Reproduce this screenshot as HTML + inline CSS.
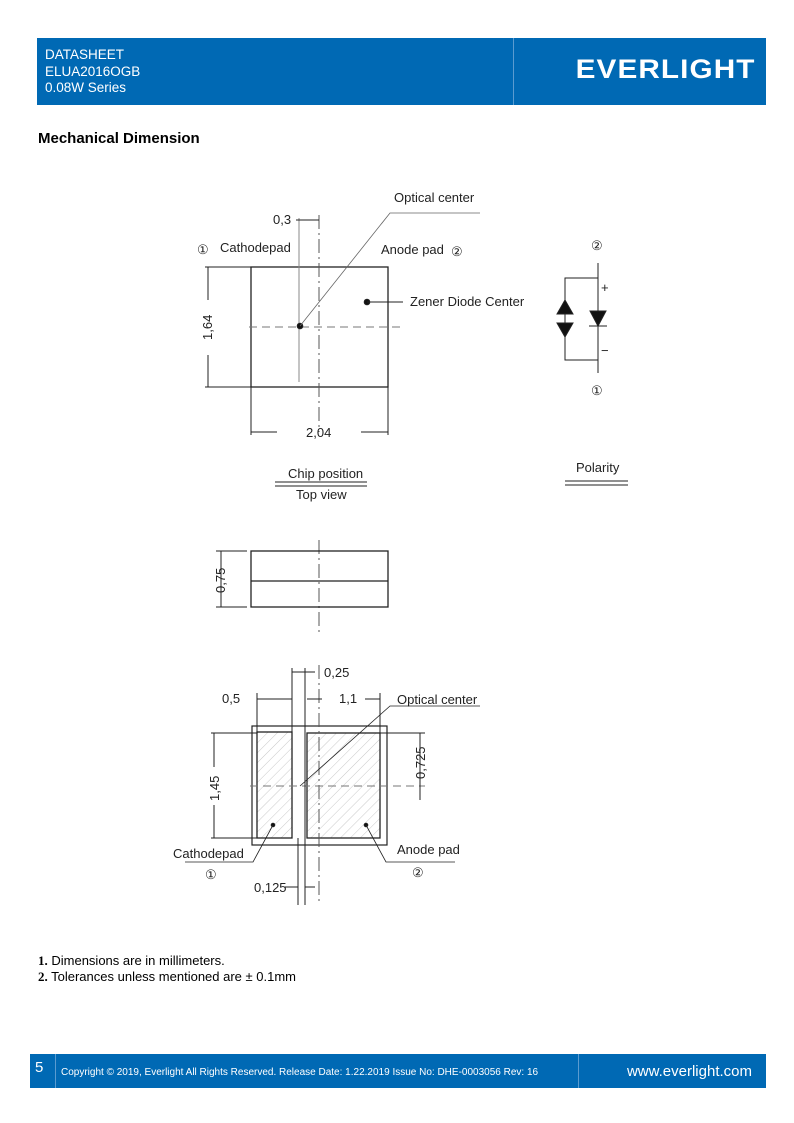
<!DOCTYPE html>
<html><head><meta charset="utf-8"><style>
body{margin:0;width:794px;height:1123px;background:#fff;position:relative;font-family:"Liberation Sans",sans-serif;overflow:hidden}
.hd{position:absolute;left:37px;top:38px;width:729px;height:67px;background:#0069b4;color:#fff}
.hd .t{position:absolute;left:8px;top:9px;font-size:13.5px;line-height:16.5px}
.hd .dv{position:absolute;left:476px;top:0;width:1px;height:67px;background:#5a9bd0}
.hd .lg{position:absolute;right:10px;top:16px;font-size:27px;font-weight:bold;letter-spacing:1px;transform:scaleX(1.1);transform-origin:right}
.ft{position:absolute;left:30px;top:1054px;width:736px;height:34px;background:#0069b4;color:#fff}
.ft .n{position:absolute;left:5px;top:5px;font-size:15px}
.ft .c{position:absolute;left:31px;top:13px;font-size:10px}
.ft .w{position:absolute;right:14px;top:9px;font-size:15px}
.ft .d1{position:absolute;left:25px;top:0;width:1px;height:34px;background:#5a9bd0}
.ft .d2{position:absolute;left:548px;top:0;width:1px;height:34px;background:#5a9bd0}
h1{position:absolute;left:38px;top:130px;margin:0;font-size:15px;font-weight:bold}
.nt{position:absolute;left:38px;top:953px;font-size:13px;line-height:16px}
svg{position:absolute;left:0;top:0}
svg text{font-family:"Liberation Sans",sans-serif;font-size:13px;fill:#222}
</style></head><body>
<div class="hd"><div class="t">DATASHEET<br>ELUA2016OGB<br>0.08W Series</div><div class="dv"></div><div class="lg">EVERLIGHT</div></div>
<h1>Mechanical Dimension</h1>
<svg width="794" height="1123" stroke="#222" fill="none" stroke-width="1">
<defs><pattern id="h" width="7" height="7" patternUnits="userSpaceOnUse" patternTransform="rotate(45)"><line x1="0" y1="0" x2="0" y2="7" stroke="#bbb" stroke-width="0.8"/></pattern></defs>
<!-- top view -->
<rect x="251" y="267" width="137" height="120" stroke-width="1.3"/>
<line x1="319" y1="215" x2="319" y2="432" stroke-dasharray="14,4,2,4" stroke="#555"/>
<line x1="319" y1="540" x2="319" y2="632" stroke-dasharray="14,4,2,4" stroke="#555"/>
<line x1="249" y1="327" x2="400" y2="327" stroke-dasharray="8,5" stroke="#777"/>
<line x1="299" y1="218" x2="299" y2="382" stroke="#888"/>
<circle cx="300" cy="326" r="2.8" fill="#111"/>
<polyline points="300,326 390,213 480,213" stroke="#666" stroke-width="0.8"/>
<line x1="296" y1="220" x2="319" y2="220"/>
<line x1="205" y1="267" x2="251" y2="267"/><line x1="205" y1="387" x2="251" y2="387"/>
<line x1="208" y1="267" x2="208" y2="300"/><line x1="208" y1="355" x2="208" y2="387"/>
<line x1="251" y1="387" x2="251" y2="435"/><line x1="388" y1="387" x2="388" y2="435"/>
<line x1="251" y1="432" x2="277" y2="432"/><line x1="361" y1="432" x2="388" y2="432"/>
<circle cx="367" cy="302" r="2.8" fill="#111"/><line x1="367" y1="302" x2="403" y2="302"/>
<g stroke="none">
<text x="394" y="202">Optical center</text>
<text x="273" y="224">0,3</text>
<text x="197" y="254">①</text><text x="220" y="252" font-size="12">Cathodepad</text>
<text x="381" y="254" font-size="12">Anode pad</text><text x="451" y="256">②</text>
<text transform="translate(212,340) rotate(-90)">1,64</text>
<text x="306" y="437">2,04</text>
<text x="410" y="306" font-size="12">Zener Diode Center</text>
<text x="591" y="250" font-size="12">②</text><text x="591" y="395" font-size="12">①</text>
<text x="601" y="292" font-size="9">+</text><text x="601" y="355" font-size="10">−</text>
<text x="288" y="478">Chip position</text><text x="296" y="499">Top view</text>
<text x="576" y="472">Polarity</text>
</g>
<!-- polarity -->
<line x1="598" y1="263" x2="598" y2="373"/>
<polyline points="598,278 565,278 565,360 598,360"/>
<polygon points="565,300 557,314 573,314" fill="#111"/><polygon points="557,323 573,323 565,337" fill="#111"/>
<line x1="557" y1="314" x2="573" y2="314"/><line x1="557" y1="323" x2="573" y2="323"/>
<polygon points="590,311 606,311 598,326" fill="#111"/><line x1="589" y1="326" x2="607" y2="326"/>
<line x1="275" y1="482" x2="367" y2="482"/><line x1="275" y1="486" x2="367" y2="486"/>
<line x1="565" y1="481" x2="628" y2="481"/><line x1="565" y1="485" x2="628" y2="485"/>
<!-- side view -->
<rect x="251" y="551" width="137" height="56" stroke-width="1.3"/>
<line x1="251" y1="581" x2="388" y2="581" stroke-width="1.3"/>
<line x1="216" y1="551" x2="247" y2="551"/><line x1="216" y1="607" x2="247" y2="607"/>
<line x1="221" y1="551" x2="221" y2="607"/>
<g stroke="none"><text transform="translate(225,593) rotate(-90)">0,75</text></g>
<!-- bottom view -->
<rect x="252" y="726" width="135" height="119" stroke-width="1.2"/>
<rect x="257" y="732" width="35" height="106" fill="url(#h)" stroke-width="1.3"/>
<rect x="307" y="733" width="73" height="105" fill="url(#h)" stroke-width="1.3"/>
<line x1="319" y1="665" x2="319" y2="905" stroke-dasharray="14,4,2,4" stroke="#555"/>
<line x1="250" y1="786" x2="425" y2="786" stroke-dasharray="8,5" stroke="#777"/>
<line x1="292" y1="668" x2="292" y2="732"/><line x1="305" y1="668" x2="305" y2="905"/>
<line x1="298" y1="838" x2="298" y2="905"/>
<line x1="292" y1="672" x2="315" y2="672"/>
<line x1="257" y1="693" x2="257" y2="732"/><line x1="380" y1="693" x2="380" y2="733"/>
<line x1="257" y1="699" x2="292" y2="699"/>
<line x1="307" y1="699" x2="322" y2="699"/><line x1="365" y1="699" x2="380" y2="699"/>
<line x1="211" y1="733" x2="257" y2="733"/><line x1="211" y1="838" x2="257" y2="838"/>
<line x1="214" y1="733" x2="214" y2="767"/><line x1="214" y1="805" x2="214" y2="838"/>
<line x1="380" y1="733" x2="425" y2="733"/><line x1="420" y1="733" x2="420" y2="800"/>
<polyline points="300,786 390,706 480,706" stroke-width="0.8"/>
<circle cx="273" cy="825" r="1.8" fill="#111"/><polyline points="273,825 253,862 185,862" stroke-width="0.8"/>
<circle cx="366" cy="825" r="1.8" fill="#111"/><polyline points="366,825 386,862 455,862" stroke-width="0.8"/>
<line x1="285" y1="887" x2="298" y2="887"/><line x1="305" y1="887" x2="315" y2="887"/>
<g stroke="none">
<text x="324" y="677">0,25</text><text x="222" y="703">0,5</text><text x="339" y="703">1,1</text>
<text x="397" y="704">Optical center</text>
<text transform="translate(219,801) rotate(-90)">1,45</text>
<text transform="translate(425,779) rotate(-90)">0,725</text>
<text x="173" y="858" font-size="12">Cathodepad</text><text x="205" y="879">①</text>
<text x="397" y="854" font-size="12">Anode pad</text><text x="412" y="877">②</text>
<text x="254" y="892">0,125</text>
</g>
</svg>
<div class="nt"><b style="font-family:'Liberation Serif',serif">1.</b> Dimensions are in millimeters.<br><b style="font-family:'Liberation Serif',serif">2.</b> Tolerances unless mentioned are ± 0.1mm</div>
<div class="ft"><div class="n">5</div><div class="d1"></div><div class="c">Copyright © 2019, Everlight All Rights Reserved. Release Date: 1.22.2019 Issue No: DHE-0003056 Rev: 16</div><div class="d2"></div><div class="w">www.everlight.com</div></div>
</body></html>
